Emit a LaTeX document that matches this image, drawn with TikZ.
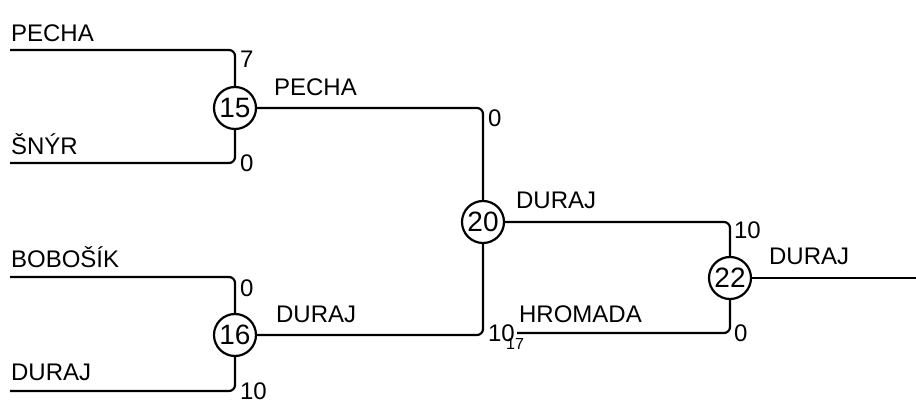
\documentclass[tikz,border=0pt]{standalone}
\usepackage{fontspec}
\setmainfont{Liberation Sans}

\begin{document}
\begin{tikzpicture}[x=0.5pt,y=-0.5pt,line width=1.1pt,
    game/.style={circle,draw,line width=1.1pt,minimum size=21pt,inner sep=0pt,
      font=\fontsize{14}{14}\selectfont},
    player/.style={anchor=base west,inner sep=0pt,font=\fontsize{12}{12}\selectfont},
    score/.style={anchor=base west,inner sep=0pt,font=\fontsize{12}{12}\selectfont},
    wire/.style={draw,line width=1.1pt,rounded corners=3pt}]
    \useasboundingbox (0,0) rectangle (916,406);

    % Matches
    \node[game] (m15) at (235,108) {15};
    \node[game] (m16) at (235,335) {16};
    \node[game] (m20) at (483,222) {20};
    \node[game] (m22) at (730,278) {22};

    % Line ends
    \coordinate (pecha) at (10,50);
    \coordinate (snyr) at (10,163);
    \coordinate (bobosik) at (10,277);
    \coordinate (duraj) at (10,391);
    \coordinate (hromada) at (517,333);
    \coordinate (winner) at (916,278);

    % First round
    \draw[wire] (pecha) -| (m15);
    \draw[wire] (snyr) -| (m15);
    \draw[wire] (bobosik) -| (m16);
    \draw[wire] (duraj) -| (m16);

    % Second round
    \draw[wire] (m15) -| (m20);
    \draw[wire] (m16) -| (m20);

    % Final
    \draw[wire] (m20) -| (m22);
    \draw[wire] (hromada) -| (m22);
    \draw (m22) -- (winner);

    % Names
    \node[player] (n1) at (10,42) {PECHA};
    \node[player] (n2) at (10,155) {ŠNÝR};
    \node[player] (n3) at (10,268) {BOBOŠÍK};
    \node[player] (n4) at (10,380) {DURAJ};
    \node[player] (n5) at (273,96) {PECHA};
    \node[player] (n6) at (275,322) {DURAJ};
    \node[player] (n7) at (515,209) {DURAJ};
    \node[player] (n8) at (518,323) {HROMADA};
    \node[player] (n9) at (768,265) {DURAJ};

    % Scores
    \node[score] (s1) at (239,68) {7};
    \node[score] (s2) at (239,172) {0};
    \node[score] (s3) at (239,297) {0};
    \node[score] (s4) at (239,400) {10};
    \node[score] (s5) at (487,127) {0};
    \node[score] (s6) at (487,342) {10};
    \node[score,font=\fontsize{8}{8}\selectfont] (s7) at (505,350) {17};
    \node[score] (s8) at (733,239) {10};
    \node[score] (s9) at (733,342) {0};
\end{tikzpicture}
\end{document}
